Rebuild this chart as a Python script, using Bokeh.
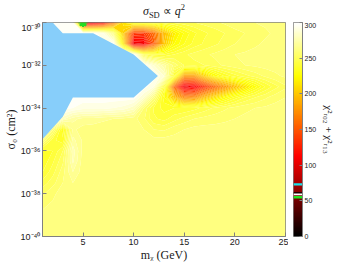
import numpy as np
from bokeh.plotting import figure
from bokeh.layouts import row, column
from bokeh.models import FixedTicker, LinearColorMapper, Range1d, Div
from bokeh.embed import file_html
from bokeh.resources import INLINE

# ---------------- data ----------------
mchi = [1, 2, 3, 4, 5, 6, 7, 8, 9, 10, 11, 12, 13, 14, 15, 16, 17, 18, 19, 20, 21, 22, 23, 24, 25]
log_sigma = [-30.0, -30.5, -31.0, -31.5, -32.0, -32.5, -33.0, -33.5, -34.0, -34.5,
             -35.0, -35.5, -36.0, -36.5, -37.0, -37.5, -38.0, -39.0, -40.0]
chi2 = [
    [298, 298, 298, 298, 85, 90, 110, 160, 215, 235, 238, 240, 243, 246, 248, 250, 252, 254, 256, 258, 259, 260, 261, 262, 262],
    [298, 298, 298, 298, 298, 298, 290, 262, 200, 138, 135, 160, 195, 218, 231, 239, 244, 247, 250, 253, 255, 257, 259, 261, 262],
    [298, 298, 298, 298, 298, 298, 298, 298, 212, 102, 105, 150, 200, 225, 235, 242, 246, 249, 252, 255, 257, 259, 261, 262, 262],
    [298, 298, 298, 298, 298, 298, 298, 298, 298, 298, 248, 240, 240, 245, 249, 252, 254, 256, 258, 260, 261, 262, 262, 262, 262],
    [298, 298, 298, 298, 298, 298, 298, 298, 298, 298, 298, 285, 272, 258, 250, 248, 250, 253, 256, 258, 260, 261, 262, 262, 262],
    [298, 298, 298, 298, 298, 298, 298, 298, 298, 298, 298, 298, 285, 240, 180, 180, 205, 225, 236, 243, 248, 252, 256, 259, 261],
    [298, 298, 298, 298, 298, 298, 298, 298, 298, 298, 298, 290, 245, 155, 102, 108, 132, 155, 175, 195, 212, 228, 240, 248, 254],
    [298, 298, 298, 298, 298, 298, 298, 298, 298, 298, 285, 262, 232, 198, 170, 174, 196, 212, 226, 237, 245, 250, 254, 258, 260],
    [298, 298, 298, 295, 292, 292, 292, 290, 288, 282, 260, 244, 238, 240, 240, 243, 247, 251, 254, 257, 259, 260, 261, 262, 262],
    [298, 298, 282, 272, 268, 268, 266, 265, 264, 262, 256, 246, 243, 248, 252, 255, 257, 258, 259, 260, 261, 262, 262, 262, 262],
    [292, 262, 232, 266, 263, 262, 262, 262, 262, 262, 260, 255, 254, 258, 260, 262, 262, 262, 262, 262, 262, 262, 262, 262, 262],
    [262, 242, 236, 272, 264, 262, 262, 262, 262, 262, 262, 262, 262, 262, 262, 262, 262, 262, 262, 262, 262, 262, 262, 262, 262],
    [238, 240, 250, 278, 263, 262, 262, 262, 262, 262, 262, 262, 262, 262, 262, 262, 262, 262, 262, 262, 262, 262, 262, 262, 262],
    [236, 244, 254, 276, 262, 262, 262, 262, 262, 262, 262, 262, 262, 262, 262, 262, 262, 262, 262, 262, 262, 262, 262, 262, 262],
    [240, 248, 258, 270, 262, 262, 262, 262, 262, 262, 262, 262, 262, 262, 262, 262, 262, 262, 262, 262, 262, 262, 262, 262, 262],
    [247, 253, 260, 265, 262, 262, 262, 262, 262, 262, 262, 262, 262, 262, 262, 262, 262, 262, 262, 262, 262, 262, 262, 262, 262],
    [254, 259, 262, 262, 262, 262, 262, 262, 262, 262, 262, 262, 262, 262, 262, 262, 262, 262, 262, 262, 262, 262, 262, 262, 262],
    [262, 262, 262, 262, 262, 262, 262, 262, 262, 262, 262, 262, 262, 262, 262, 262, 262, 262, 262, 262, 262, 262, 262, 262, 262],
    [262, 262, 262, 262, 262, 262, 262, 262, 262, 262, 262, 262, 262, 262, 262, 262, 262, 262, 262, 262, 262, 262, 262, 262, 262],
]
# excluded region (blue polygon)
excl_m = [1, 2.0, 3.0, 6.0, 10.0, 12.4, 10.0, 4.0, 3.0, 1]
excl_logsig = [-30, -30, -30.5, -30.5, -31.5, -32.5, -33.5, -33.5, -34.4, -35.45]
# best-fit marker
best_m = [5]
best_logsig = [-30]
# colour-bar threshold lines
thr_values = [73, 61, 59, 55]
thr_colors = ["#19E3EC", "#000000", "#FFFFFF", "#1EE81E"]
thr_widths = [2.2, 1.6, 1.6, 2.6]

x_ticks = [5, 10, 15, 20, 25]
y_ticks = [-40, -38, -36, -34, -32, -30]
y_tick_labels = ["10⁻⁴⁰", "10⁻³⁸", "10⁻³⁶", "10⁻³⁴", "10⁻³²", "10⁻³⁰"]
cbar_ticks = [0, 50, 100, 150, 200, 250, 300]
chi2_min, chi2_max = 0, 300

title_html = ('<i>σ</i><sub style="font-size:8.5px;line-height:0">SD</sub>'
              '&nbsp;∝&nbsp;<i>q</i><sup style="font-size:8.5px;line-height:0">2</sup>')
x_label = "mᵪ (GeV)"
y_label = "σ₀ (cm²)"
cb_label = "χ²ᵣ₀₂ + χ²ᵣ₁₃"


def hot(v):
    v = min(max(v, 0.0), 1.0)
    r = min(1.0, v / 0.375)
    g = min(1.0, max(0.0, (v - 0.375) / 0.375))
    b = max(0.0, (v - 0.75) / 0.25)
    return "#%02x%02x%02x" % (round(255 * r), round(255 * g), round(255 * b))


levels = list(range(chi2_min, chi2_max + 5, 5))
fill_colors = [hot((levels[i] + levels[i + 1]) / 2 / chi2_max) for i in range(len(levels) - 1)]
hot256 = [hot(i / 255) for i in range(256)]

SERIF = "Liberation Serif"
SANS = "Liberation Sans"

# ---------------- title ----------------
title = Div(text=title_html, width=318, height=12,
            styles={"text-align": "center", "font-family": SERIF, "font-size": "12px",
                    "line-height": "12px", "color": "#1a1a1a", "overflow": "visible"})

# ---------------- main panel ----------------
p = figure(width=288, height=242,
           x_range=Range1d(1, 25), y_range=Range1d(-40, -30),
           output_backend="svg", toolbar_location=None,
           min_border_left=35, min_border_right=3, min_border_top=0, min_border_bottom=26)

X, Y = np.meshgrid(np.array(mchi, dtype=float), np.array(log_sigma, dtype=float))
Z = np.array(chi2, dtype=float)
p.contour(x=X, y=Y, z=Z, levels=levels, fill_color=fill_colors, line_color=None)

p.patch(excl_m, excl_logsig, fill_color="#87CEFA", line_color=None)
p.scatter(best_m, best_logsig, marker="asterisk", size=9, line_color="#22DD22", line_width=2.2)

p.grid.visible = False
p.outline_line_color = "#808080"
p.background_fill_color = "white"
for ax in (p.xaxis[0], p.yaxis[0]):
    ax.axis_line_color = "#808080"
    ax.major_tick_line_color = "#808080"
    ax.major_tick_in = 4
    ax.major_tick_out = 0
    ax.minor_tick_line_color = None
    ax.major_label_text_font = SANS
    ax.major_label_text_font_size = "9px"
    ax.major_label_text_color = "#1a1a1a"
    ax.major_label_standoff = 2
    ax.axis_label_text_font = SERIF
    ax.axis_label_text_font_style = "normal"
    ax.axis_label_text_font_size = "12px"
    ax.axis_label_text_color = "#1a1a1a"
    ax.axis_label_standoff = 0
p.xaxis.ticker = FixedTicker(ticks=x_ticks)
p.yaxis.ticker = FixedTicker(ticks=y_ticks)
p.yaxis.major_label_overrides = {t: lab for t, lab in zip(y_ticks, y_tick_labels)}
p.xaxis.axis_label = x_label
p.yaxis.axis_label = y_label

# ---------------- colour bar ----------------
cb = figure(width=50, height=242,
            x_range=Range1d(0, 1), y_range=Range1d(chi2_min, chi2_max),
            y_axis_location="right", output_backend="svg", toolbar_location=None,
            min_border_left=5, min_border_right=32, min_border_top=0, min_border_bottom=26)
mapper = LinearColorMapper(palette=hot256, low=chi2_min, high=chi2_max)
grad = (np.arange(chi2_max).reshape(chi2_max, 1) + 0.5)
cb.image(image=[grad], x=0, y=chi2_min, dw=1, dh=chi2_max - chi2_min, color_mapper=mapper)
cb.segment(x0=[0] * len(thr_values), x1=[1] * len(thr_values), y0=thr_values, y1=thr_values,
           line_color=thr_colors, line_width=thr_widths)
cb.xaxis.visible = False
cb.grid.visible = False
cb.outline_line_color = "#808080"
ya = cb.yaxis[0]
ya.ticker = FixedTicker(ticks=cbar_ticks)
ya.axis_line_color = "#808080"
ya.major_tick_line_color = "#808080"
ya.major_tick_in = 3
ya.major_tick_out = 0
ya.minor_tick_line_color = None
ya.major_label_text_font = SANS
ya.major_label_text_font_size = "7px"
ya.major_label_text_color = "#1a1a1a"
ya.major_label_standoff = 2
ya.axis_label = cb_label
ya.axis_label_text_font = SERIF
ya.axis_label_text_font_style = "normal"
ya.axis_label_text_font_size = "11px"
ya.axis_label_text_color = "#1a1a1a"
ya.axis_label_standoff = 4

layout = column(title, row(p, cb))
open("out.html", "w").write(file_html(layout, INLINE))
